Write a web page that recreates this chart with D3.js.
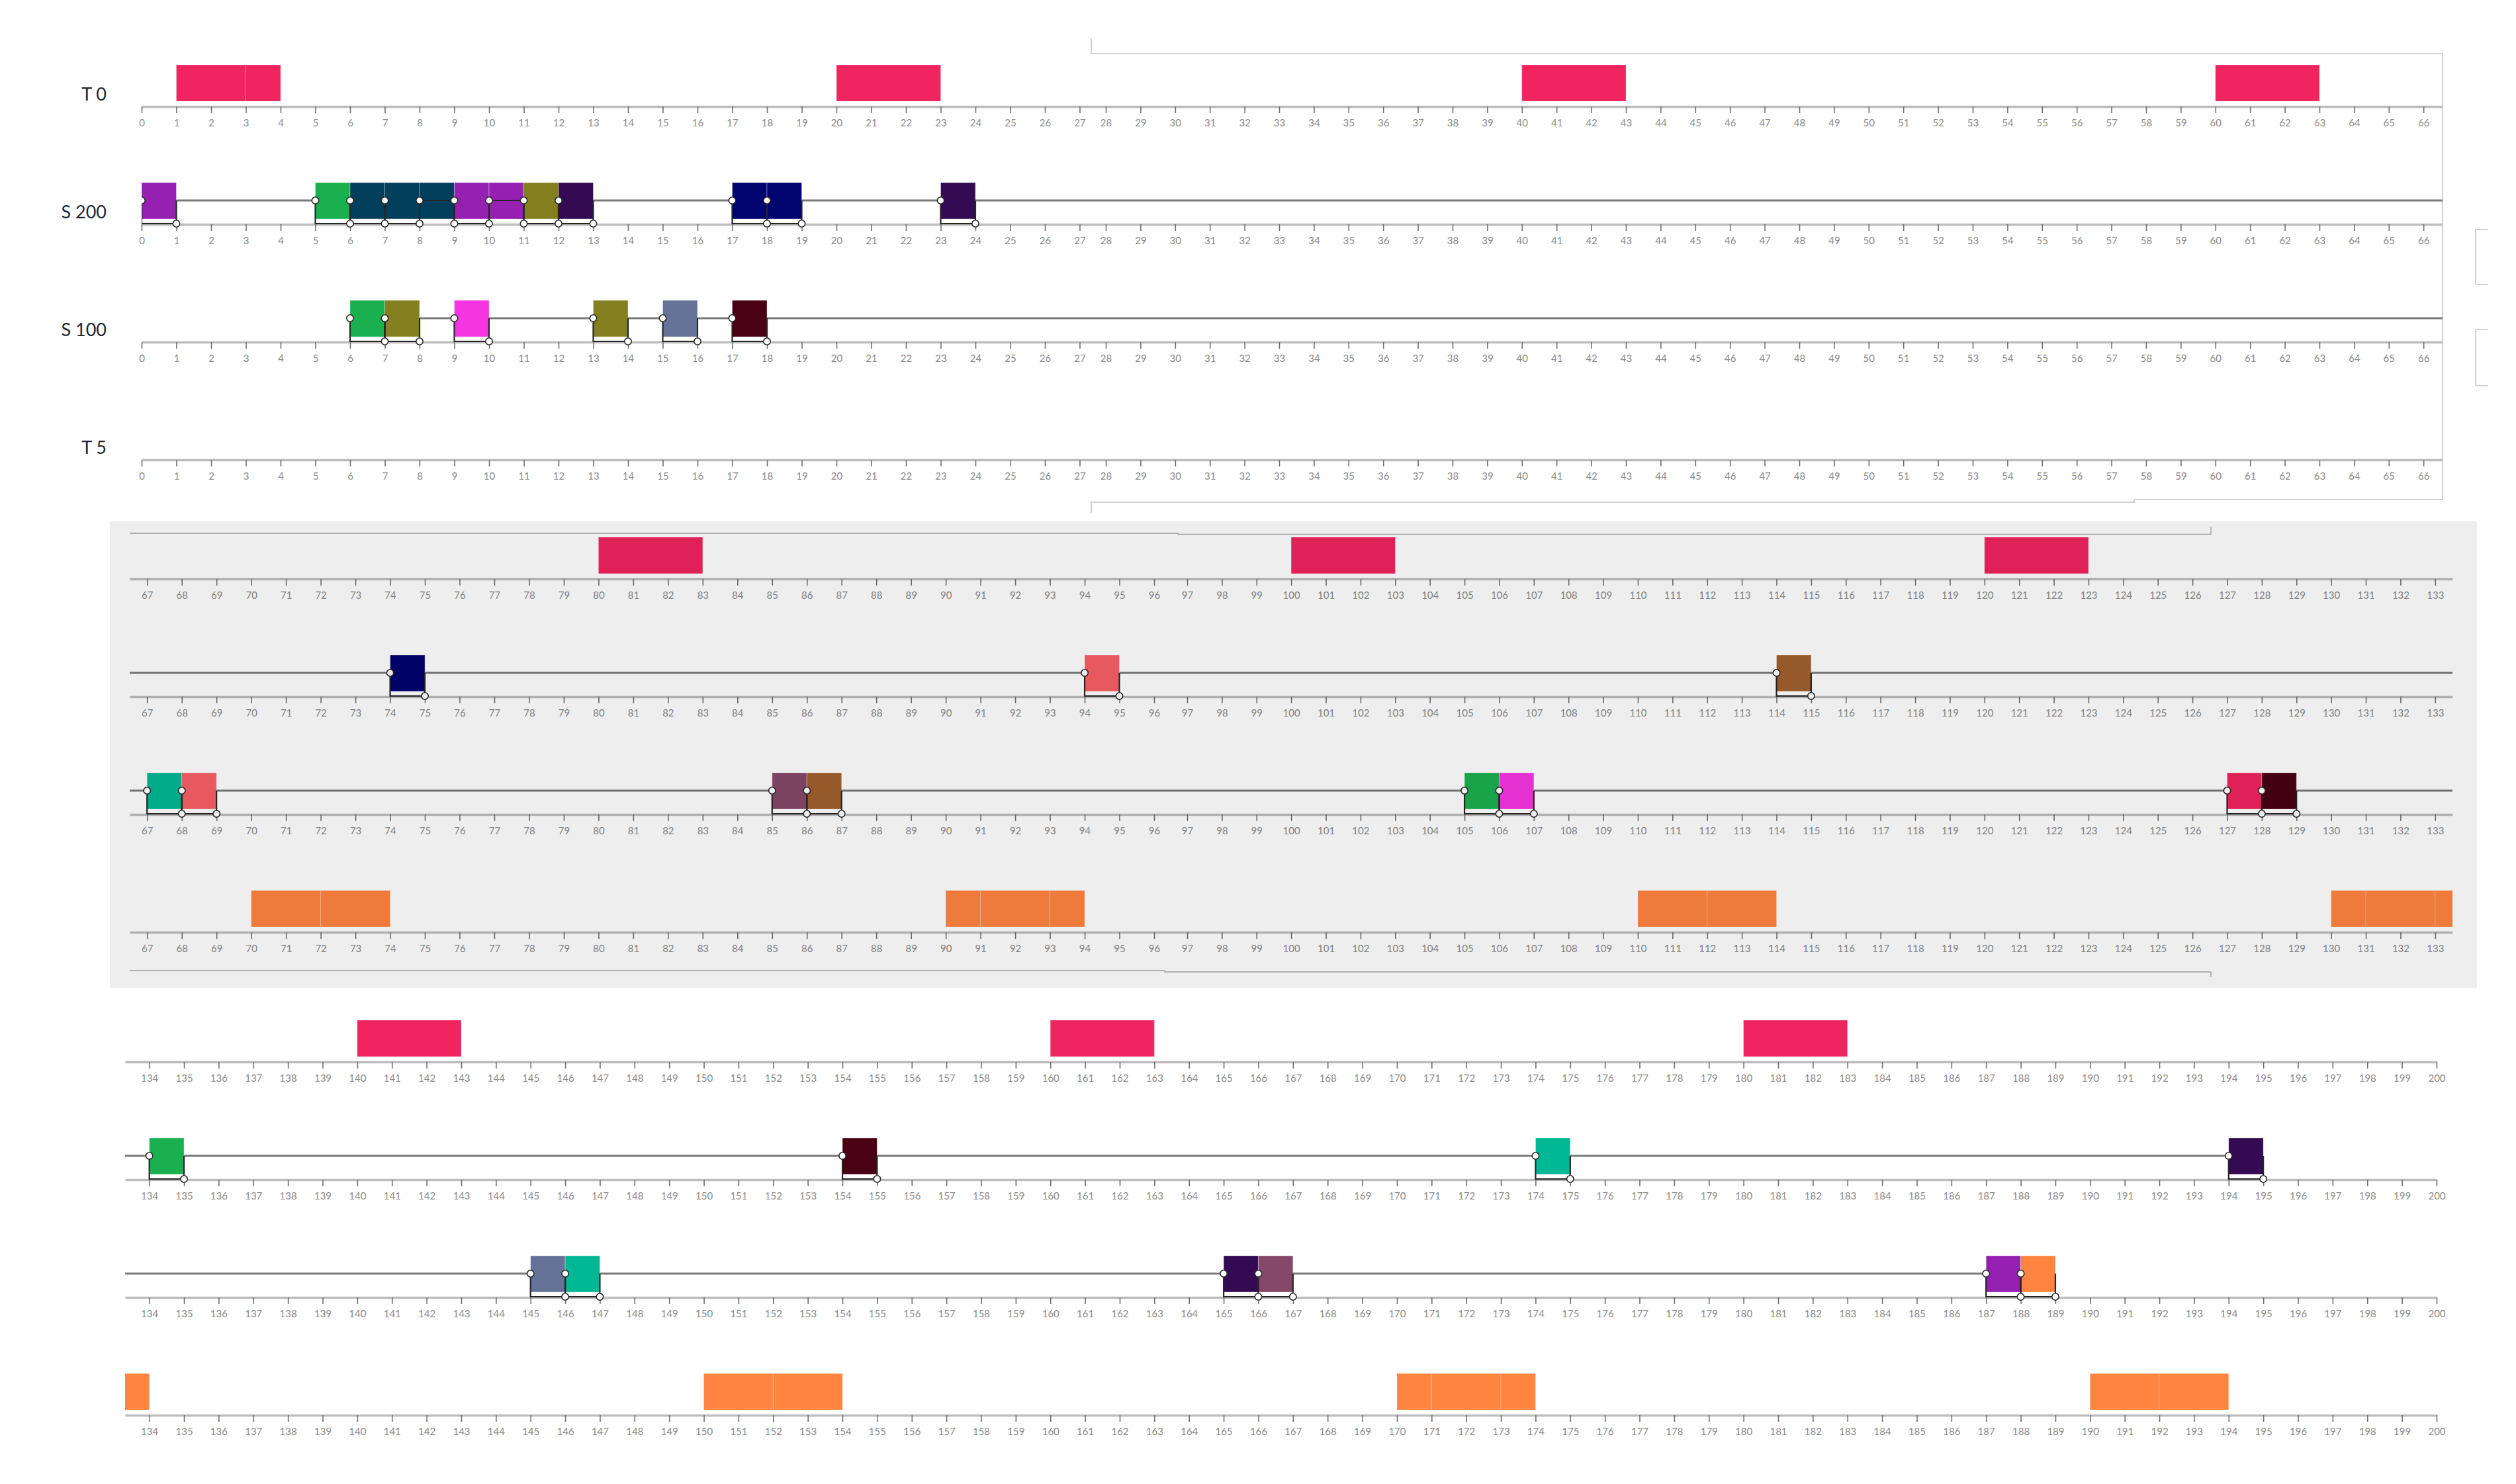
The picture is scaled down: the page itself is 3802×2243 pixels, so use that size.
<!DOCTYPE html>
<html><head><meta charset="utf-8">
<script src="https://cdn.jsdelivr.net/npm/d3@7"></script>
<style>
html,body{margin:0;padding:0;background:#fff;}
svg{display:block;}
</style>
</head><body>
<svg id="chart" width="3802" height="2243"></svg>
<script>
// ---------------- DATA ----------------
const rowNames = ["T 0", "S 200", "S 100", "T 5"];
// tick label ranges of the three wrapped panels (every integer shown)
const panelTickRanges = [[0, 66], [67, 133], [134, 200]];

// T 0 blocks [start, end]
const t0Bars = [[1, 3], [3, 4], [20, 23], [40, 43], [60, 63], [80, 83], [100, 103], [120, 123], [140, 143], [160, 163], [180, 183]];
// T 5 blocks [start, end]
const t5Bars = [[70, 72], [72, 74], [90, 91], [91, 93], [93, 94], [110, 112], [112, 114], [130, 131], [131, 133], [133, 134],
                [150, 152], [152, 154], [170, 171], [171, 173], [173, 174], [190, 192], [192, 194]];
// S 200 jobs [start, end, colour key, connector style]
const s200Jobs = [
  [0, 1, "purple", "down"], [5, 6, "green", "down"], [6, 7, "teal", "down"], [7, 8, "teal", "down"], [8, 9, "teal", "across"],
  [9, 10, "purple", "down"], [10, 11, "purple", "across"], [11, 12, "olive", "down"], [12, 13, "indigo", "down"],
  [17, 18, "navy", "down"], [18, 19, "navy", "down"], [23, 24, "indigo", "down"],
  [74, 75, "navy", "down"], [94, 95, "salmon", "down"], [114, 115, "brown", "down"],
  [134, 135, "green", "down"], [154, 155, "maroon", "down"], [174, 175, "aqua", "down"], [194, 195, "indigo", "down"]
];
// S 100 jobs [start, end, colour key, connector style]
const s100Jobs = [
  [6, 7, "green", "down"], [7, 8, "olive", "down"], [9, 10, "magenta", "down"], [13, 14, "olive", "down"],
  [15, 16, "slate", "down"], [17, 18, "maroon", "down"],
  [67, 68, "aqua", "down"], [68, 69, "salmon", "down"], [85, 86, "mauve", "down"], [86, 87, "brown", "down"],
  [105, 106, "green", "down"], [106, 107, "magenta", "down"], [127, 128, "pink", "down"], [128, 129, "maroon", "down"],
  [145, 146, "slate", "down"], [146, 147, "aqua", "down"], [165, 166, "indigo", "down"], [166, 167, "mauve", "down"],
  [187, 188, "purple", "down"], [188, 189, "orange", "down"]
];
const palette = {
  pink: "#F0245E", orange: "#FF8440", purple: "#9520B1", green: "#1BB04F", teal: "#023F5C",
  olive: "#847F1F", indigo: "#340A53", navy: "#01036F", salmon: "#F86066", brown: "#A0602D",
  aqua: "#00B894", mauve: "#86486A", magenta: "#F535E0", maroon: "#480012", slate: "#667399"
};

// ---------------- LAYOUT ----------------
const W = 3802, H = 2243;
const rowGap = 178;
const panels = [
  { domain: [0, 27, 28, 66.55], range: [214, 1631.5, 1671, 3691], axisTop: 161 },
  { domain: [66.5, 96, 97, 133.5], range: [196, 1744, 1794, 3706], axisTop: 875 },
  { domain: [133.3, 200], range: [189, 3682], axisTop: 1605 }
];
const rows = [
  { name: rowNames[0], type: "bars", data: t0Bars, color: "pink" },
  { name: rowNames[1], type: "jobs", data: s200Jobs },
  { name: rowNames[2], type: "jobs", data: s100Jobs },
  { name: rowNames[3], type: "bars", data: t5Bars, color: "orange" }
];
const FONT = "Lato, 'Open Sans', sans-serif";
const EDGE = "rgba(255,255,255,0.22)";

const svg = d3.select("#chart");
svg.append("rect").attr("width", W).attr("height", H).attr("fill", "#fff");
const defs = svg.append("defs");

// frame remnants around panel 1
const frame = svg.append("g").attr("fill", "none").attr("stroke", "#c4c4c4").attr("stroke-width", 1.5);
frame.append("path").attr("d", "M1649,58V81H3691V755H3225V759H1649V775");
frame.append("path").attr("d", "M3760,347H3741V430H3760");
frame.append("path").attr("d", "M3760,498H3741V583H3760");

panels.forEach((p, i) => {
  const x = d3.scaleLinear().domain(p.domain).range(p.range);
  const d0 = p.domain[0], d1 = p.domain[p.domain.length - 1];
  const r0 = p.range[0], r1 = p.range[p.range.length - 1];
  const ticks = d3.range(panelTickRanges[i][0], panelTickRanges[i][1] + 1);
  const g = svg.append("g");

  defs.append("clipPath").attr("id", "clip" + i)
    .append("rect").attr("x", r0).attr("y", 0).attr("width", r1 - r0).attr("height", H);

  if (i === 1) {
    const fl = g.append("g").attr("fill", "none").attr("stroke", "#a8a8a8").attr("stroke-width", 1.3);
    fl.append("path").attr("d", "M196,806H1780V807.5H3341V796");
    fl.append("path").attr("d", "M196,1467H1760V1469H3341V1477");
  }

  rows.forEach((row, r) => {
    const ay = p.axisTop + r * rowGap;
    const cy = ay - 36;
    const barTop = ay - 63, barH = 55;

    // axis
    const ax = g.append("g").attr("transform", `translate(0,${ay})`)
      .call(d3.axisBottom(x).tickValues(ticks).tickFormat(d3.format("d"))
        .tickSize(10).tickSizeOuter(0).tickPadding(9));
    ax.select(".domain").attr("stroke", "#bdbdbd").attr("stroke-width", 3.5);
    ax.selectAll(".tick line").attr("stroke", "#6f6f6f").attr("stroke-width", 1.6);
    ax.selectAll(".tick text").attr("fill", "#8a8a8a").attr("font-size", 15).attr("font-family", FONT);

    const cg = g.append("g").attr("clip-path", `url(#clip${i})`);
    const inPanel = d => d[0] < d1 && d[1] > d0;

    if (row.type === "bars") {
      cg.selectAll("rect.bar").data(row.data.filter(inPanel)).join("rect")
        .attr("class", "bar")
        .attr("x", d => x(d[0])).attr("width", d => x(d[1]) - x(d[0]))
        .attr("y", barTop).attr("height", barH)
        .attr("fill", palette[row.color])
        .attr("stroke", EDGE).attr("stroke-width", 1);
    } else {
      const starts = row.data.map(d => d[0]);
      const ls = d3.min(starts), le = d3.max(starts);
      cg.append("line")
        .attr("x1", x(Math.max(ls, d0))).attr("x2", x(Math.min(le, d1)))
        .attr("y1", cy).attr("y2", cy)
        .attr("stroke", "#7a7a7a").attr("stroke-width", 3);
      const jobs = row.data.filter(inPanel);
      cg.selectAll("rect.job").data(jobs).join("rect")
        .attr("class", "job")
        .attr("x", d => x(d[0])).attr("width", d => x(d[1]) - x(d[0]))
        .attr("y", barTop).attr("height", barH)
        .attr("fill", d => palette[d[2]])
        .attr("stroke", "rgba(255,255,255,0.35)").attr("stroke-width", 1);
      cg.selectAll("path.conn").data(jobs).join("path")
        .attr("class", "conn")
        .attr("d", d => d[3] === "across"
          ? `M${x(d[0])},${cy}H${x(d[1])}V${ay - 1}`
          : `M${x(d[0])},${cy}V${ay - 1}H${x(d[1])}V${cy}`)
        .attr("fill", "none").attr("stroke", "#262626").attr("stroke-width", 2.2);
      cg.selectAll("circle.s").data(jobs).join("circle")
        .attr("class", "s").attr("cx", d => x(d[0])).attr("cy", cy).attr("r", 5.2)
        .attr("fill", "#fff").attr("stroke", "#2a2a2a").attr("stroke-width", 1.6);
      cg.selectAll("circle.e").data(jobs).join("circle")
        .attr("class", "e").attr("cx", d => x(d[1])).attr("cy", ay - 1).attr("r", 5.2)
        .attr("fill", "#fff").attr("stroke", "#2a2a2a").attr("stroke-width", 1.6);
    }

    if (i === 0) {
      g.append("text").attr("x", 161).attr("y", ay - 9)
        .attr("text-anchor", "end").attr("font-family", FONT).attr("font-size", 27)
        .attr("fill", "#1e2530").text(row.name);
    }
  });

  if (i === 1) {
    // dimmed gray band of the middle panel
    svg.append("rect").attr("x", 166).attr("y", 788).attr("width", 3577).attr("height", 705)
      .attr("fill", "#000").attr("opacity", 0.067);
  }
});
</script>
</body></html>
